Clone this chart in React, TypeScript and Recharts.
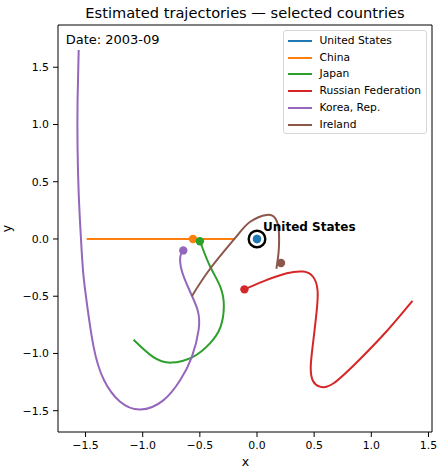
import React from 'react';
import { ComposedChart, Line, Scatter, XAxis, YAxis, Legend } from 'recharts';

const FONT = "'DejaVu Sans', sans-serif";

const countries = ['United States', 'China', 'Japan', 'Russian Federation', 'Korea, Rep.', 'Ireland'];
const colors = ['#1f77b4', '#ff7f0e', '#2ca02c', '#d62728', '#9467bd', '#8c564b'];

const titleText = 'Estimated trajectories — selected countries';
const dateText = 'Date: 2003-09';
const focusCountry = 'United States';

const xTicks = [-1.5, -1, -0.5, 0, 0.5, 1, 1.5];
const yTicks = [-1.5, -1, -0.5, 0, 0.5, 1, 1.5];
const xDomain = [-1.741, 1.531];
const yDomain = [-1.686, 1.869];

// trajectory traces (x, y)
const usPath = [{ x: 0, y: 0 }];
const chinaPath = [
  { x: -1.49, y: 0 }, { x: -1.1, y: 0 }, { x: -0.7, y: 0 }, { x: -0.2, y: 0 },
];
const japanPath = [
  { x: -1.08, y: -0.88 }, { x: -0.91, y: -1.03 }, { x: -0.75, y: -1.08 }, { x: -0.56, y: -1.03 },
  { x: -0.41, y: -0.91 }, { x: -0.32, y: -0.77 }, { x: -0.29, y: -0.59 }, { x: -0.32, y: -0.42 },
  { x: -0.41, y: -0.24 }, { x: -0.48, y: -0.07 }, { x: -0.5, y: -0.02 },
];
const russiaPath = [
  { x: 1.36, y: -0.54 }, { x: 1.13, y: -0.81 }, { x: 0.9, y: -1.05 }, { x: 0.67, y: -1.26 },
  { x: 0.55, y: -1.29 }, { x: 0.49, y: -1.24 }, { x: 0.47, y: -1.12 }, { x: 0.49, y: -0.91 },
  { x: 0.52, y: -0.65 }, { x: 0.53, y: -0.45 }, { x: 0.49, y: -0.33 }, { x: 0.405, y: -0.285 },
  { x: 0.26, y: -0.3 }, { x: 0.055, y: -0.37 }, { x: -0.11, y: -0.44 },
];
const koreaPath = [
  { x: -1.56, y: 1.65 }, { x: -1.57, y: 1.2 }, { x: -1.57, y: 0.8 }, { x: -1.56, y: 0.4 },
  { x: -1.54, y: 0.0 }, { x: -1.52, y: -0.3 }, { x: -1.49, y: -0.55 }, { x: -1.43, y: -0.94 },
  { x: -1.34, y: -1.23 }, { x: -1.2, y: -1.42 }, { x: -1.02, y: -1.49 }, { x: -0.82, y: -1.41 },
  { x: -0.67, y: -1.23 }, { x: -0.57, y: -1.03 }, { x: -0.51, y: -0.79 }, { x: -0.52, y: -0.62 },
  { x: -0.59, y: -0.45 }, { x: -0.66, y: -0.27 }, { x: -0.67, y: -0.15 }, { x: -0.645, y: -0.1 },
];
const irelandPath = [
  { x: -0.57, y: -0.5 }, { x: -0.41, y: -0.26 }, { x: -0.19, y: 0.01 }, { x: -0.06, y: 0.15 },
  { x: 0.085, y: 0.21 }, { x: 0.16, y: 0.18 }, { x: 0.19, y: 0.08 }, { x: 0.19, y: -0.1 },
  { x: 0.17, y: -0.26 },
];

// current positions
const currentX = [0, -0.56, -0.5, -0.11, -0.645, 0.21];
const currentY = [0, 0, -0.02, -0.44, -0.1, -0.21];

const paths = [usPath, chinaPath, japanPath, russiaPath, koreaPath, irelandPath];
const currentPoints = countries.map((name, i) => ({ name, x: currentX[i], y: currentY[i] }));
const focusIndex = countries.indexOf(focusCountry);
const focusPoints = [{ name: focusCountry, x: currentX[focusIndex], y: currentY[focusIndex] }];

const CHART_W = 437;
const CHART_H = 468;
const MARGIN = { top: 25, right: 5, bottom: 0, left: 0 };
const Y_AXIS_W = 58;
const X_AXIS_H = 36;
const plotLeft = MARGIN.left + Y_AXIS_W;
const plotTop = MARGIN.top;
const plotW = CHART_W - MARGIN.right - plotLeft;
const plotH = CHART_H - MARGIN.bottom - X_AXIS_H - plotTop;

const renderDot = (props: any) => {
  const idx = countries.indexOf(props.payload?.name);
  return <circle cx={props.cx} cy={props.cy} r={4.2} fill={colors[idx]} stroke="none" />;
};

const renderFocus = (props: any) => (
  <g>
    <circle cx={props.cx} cy={props.cy} r={8.3} fill="none" stroke="#000" strokeWidth={2.4} />
    <circle cx={props.cx} cy={props.cy} r={4.2} fill={colors[focusIndex]} stroke="none" />
    <text x={props.cx + 6} y={props.cy - 8} fontFamily={FONT} fontSize={12} fontWeight="bold" fill="#000">
      {props.payload?.name}
    </text>
  </g>
);

const renderLegend = () => (
  <div
    style={{
      position: 'relative',
      width: 144,
      height: 104,
      boxSizing: 'border-box',
      border: '1px solid #d6d6d6',
      borderRadius: 3,
      background: 'rgba(255,255,255,0.8)',
      fontFamily: FONT,
      fontSize: 10.7,
      color: '#000',
    }}
  >
    {countries.map((c, i) => (
      <div
        key={c}
        style={{ position: 'absolute', left: 0, top: 2 + i * 16.7, height: 16, display: 'flex', alignItems: 'center' }}
      >
        <div style={{ marginLeft: 3.5, width: 24, height: 2, background: colors[i] }} />
        <span style={{ marginLeft: 8, lineHeight: '16px', whiteSpace: 'nowrap' }}>{c}</span>
      </div>
    ))}
  </div>
);

const fmt = (v: number) => v.toFixed(1).replace('-', '\u2212');

export default function App() {
  return (
    <div
      style={{
        position: 'absolute',
        left: 0,
        top: 0,
        width: CHART_W,
        height: CHART_H,
        background: '#fff',
        fontFamily: FONT,
      }}
    >
      <ComposedChart width={CHART_W} height={CHART_H} margin={MARGIN}>
        <XAxis
          dataKey="x"
          type="number"
          domain={xDomain}
          allowDataOverflow
          ticks={xTicks}
          tickFormatter={fmt}
          height={X_AXIS_H}
          tickSize={5}
          tickMargin={4}
          tick={{ fontSize: 10.9, fill: '#000', fontFamily: FONT }}
          axisLine={{ stroke: '#000', strokeWidth: 1 }}
          tickLine={{ stroke: '#000' }}
        />
        <YAxis
          dataKey="y"
          type="number"
          domain={yDomain}
          allowDataOverflow
          ticks={yTicks}
          tickFormatter={fmt}
          width={Y_AXIS_W}
          tickSize={5}
          tickMargin={4}
          tick={{ fontSize: 10.9, fill: '#000', fontFamily: FONT }}
          axisLine={{ stroke: '#000', strokeWidth: 1 }}
          tickLine={{ stroke: '#000' }}
        />
        {paths.map((p, i) =>
          p.length > 1 ? (
            <Line
              key={countries[i]}
              data={p}
              dataKey="y"
              type="natural"
              stroke={colors[i]}
              strokeWidth={2}
              dot={false}
              activeDot={false}
              isAnimationActive={false}
            />
          ) : null
        )}
        <Scatter data={currentPoints} shape={renderDot} isAnimationActive={false} />
        <Scatter data={focusPoints} shape={renderFocus} isAnimationActive={false} />
        <Legend
          layout="horizontal"
          verticalAlign="middle"
          align="center"
          wrapperStyle={{ top: 30, left: 283, width: 144, height: 104 }}
          content={renderLegend}
        />
        <text x={245} y={17.5} textAnchor="middle" fontFamily={FONT} fontSize={14.6} fill="#000">{titleText}</text>
        <text x={65.7} y={44.3} fontFamily={FONT} fontSize={13} fill="#000">{dateText}</text>
        <text x={245.5} y={466} textAnchor="middle" fontFamily={FONT} fontSize={12.5} fill="#000">x</text>
        <text x={10.5} y={228.5} textAnchor="middle" fontFamily={FONT} fontSize={12.5} fill="#000" transform="rotate(-90 10.5 228.5)">y</text>
        <line x1={plotLeft} y1={plotTop} x2={plotLeft + plotW} y2={plotTop} stroke="#000" strokeWidth={1} />
        <line x1={plotLeft + plotW} y1={plotTop} x2={plotLeft + plotW} y2={plotTop + plotH} stroke="#000" strokeWidth={1} />
      </ComposedChart>
    </div>
  );
}
